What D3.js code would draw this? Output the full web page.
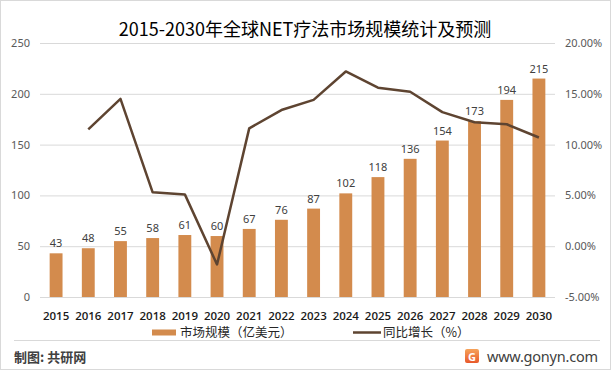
<!DOCTYPE html>
<html lang="zh">
<head>
  <meta charset="UTF-8">
  <title>2015-2030年全球NET疗法市场规模统计及预测</title>
  <style>
    body { margin: 0; background: #fff; font-family: "Noto Sans CJK SC", "Noto Sans", sans-serif; }
    svg { display: block; }
  </style>
</head>
<body>
  <svg id="chart"></svg>
  <script src="https://d3js.org/d3.v7.min.js"></script>
  <script>
    const years = ["2015","2016","2017","2018","2019","2020","2021","2022","2023","2024","2025","2026","2027","2028","2029","2030"];
    const marketSize = [43, 48, 55, 58, 61, 60, 67, 76, 87, 102, 118, 136, 154, 173, 194, 215];
    const growth = [null, 11.5, 14.5, 5.3, 5.1, -1.8, 11.6, 13.4, 14.4, 17.2, 15.6, 15.2, 13.2, 12.2, 12.0, 10.7];
    const leftTicks = [0, 50, 100, 150, 200, 250];
    const rightTicks = [-5, 0, 5, 10, 15, 20];

    const width = 611, height = 370;
    const svg = d3.select("#chart").attr("width", width).attr("height", height);

    // outer frame
    svg.append("rect").attr("x", 0.5).attr("y", 0.5).attr("width", width - 1).attr("height", height - 1)
      .attr("fill", "#fff").attr("stroke", "#d9d9d9");

    const plot = { left: 40, right: 555, top: 43, bottom: 297 };

    const x = d3.scaleBand().domain(years).range([plot.left, plot.right]).paddingInner(0.6).paddingOuter(0.3);
    const xc = d => x(d) + x.bandwidth() / 2;
    const yL = d3.scaleLinear().domain([0, 250]).range([plot.bottom, plot.top]);
    const yR = d3.scaleLinear().domain([-5, 20]).range([plot.bottom, plot.top]);

    // gridlines
    svg.append("g").selectAll("line").data(leftTicks).join("line")
      .attr("x1", plot.left).attr("x2", plot.right)
      .attr("y1", d => yL(d) + 0.5).attr("y2", d => yL(d) + 0.5)
      .attr("stroke", "#d9d9d9").attr("stroke-width", 1);

    // left axis
    const axL = svg.append("g").attr("transform", `translate(${plot.left - 10},0)`)
      .call(d3.axisLeft(yL).tickValues(leftTicks).tickSize(0).tickPadding(0));
    axL.select(".domain").remove();
    axL.selectAll("text").attr("fill", "#595959").style("font-size", "11px").style("font-family", "Noto Sans, sans-serif");

    // right axis
    const axR = svg.append("g").attr("transform", `translate(${plot.right + 10},0)`)
      .call(d3.axisRight(yR).tickValues(rightTicks).tickSize(0).tickPadding(0).tickFormat(d => d.toFixed(2) + "%"));
    axR.select(".domain").remove();
    axR.selectAll("text").attr("fill", "#595959").style("font-size", "11px").style("font-family", "Noto Sans, sans-serif");

    // bars
    svg.append("g").selectAll("rect").data(marketSize).join("rect")
      .attr("x", (d, i) => x(years[i]))
      .attr("y", d => yL(d))
      .attr("width", x.bandwidth())
      .attr("height", d => yL(0) - yL(d))
      .attr("fill", "#d38b4d");

    // bar labels
    svg.append("g").selectAll("text").data(marketSize).join("text")
      .attr("x", (d, i) => xc(years[i]))
      .attr("y", d => yL(d) - 6)
      .attr("text-anchor", "middle")
      .attr("fill", "#404040")
      .style("font-size", "11px")
      .style("font-family", "Noto Sans, sans-serif")
      .text(d => d);

    // x labels
    svg.append("g").selectAll("text").data(years).join("text")
      .attr("x", d => xc(d))
      .attr("y", 320)
      .attr("text-anchor", "middle")
      .attr("fill", "#1a1a1a")
      .style("font-size", "11.5px")
      .style("font-weight", "600")
      .style("font-family", "Open Sans, Noto Sans, sans-serif")
      .text(d => d);

    // growth line
    const line = d3.line()
      .defined(d => d != null)
      .x((d, i) => xc(years[i]))
      .y(d => yR(d));
    svg.append("path").datum(growth)
      .attr("fill", "none").attr("stroke", "#5e4431").attr("stroke-width", 2.5)
      .attr("stroke-linejoin", "round")
      .attr("d", line);

    // title
    svg.append("text").attr("x", 305).attr("y", 36).attr("text-anchor", "middle")
      .attr("fill", "#000").style("font-size", "18px")
      .text("2015-2030年全球NET疗法市场规模统计及预测");

    // legend
    const lg = svg.append("g");
    lg.append("rect").attr("x", 152).attr("y", 329.5).attr("width", 24).attr("height", 6).attr("fill", "#d38b4d");
    lg.append("text").attr("x", 180).attr("y", 337).attr("fill", "#262626").style("font-size", "12.5px").text("市场规模（亿美元）");
    lg.append("line").attr("x1", 353).attr("x2", 381).attr("y1", 332.5).attr("y2", 332.5)
      .attr("stroke", "#5e4431").attr("stroke-width", 2.5);
    lg.append("text").attr("x", 383).attr("y", 337).attr("fill", "#262626").style("font-size", "12.5px").text("同比增长（%）");

    // footer
    svg.append("line").attr("x1", 14).attr("x2", 600).attr("y1", 340.5).attr("y2", 340.5).attr("stroke", "#d9d9d9");
    svg.append("text").attr("x", 14).attr("y", 362).attr("fill", "#404040").style("font-size", "13px").style("font-weight", "bold")
      .text("制图: 共研网");
    const grad = svg.append("defs").append("linearGradient").attr("id", "logo").attr("x1", 0).attr("y1", 0).attr("x2", 0).attr("y2", 1);
    grad.append("stop").attr("offset", 0).attr("stop-color", "#f6a35a");
    grad.append("stop").attr("offset", 1).attr("stop-color", "#e8592b");
    svg.append("rect").attr("x", 465).attr("y", 349).attr("width", 14).attr("height", 14).attr("rx", 2).attr("fill", "url(#logo)");
    svg.append("text").attr("x", 472).attr("y", 360.5).attr("text-anchor", "middle").attr("fill", "#fff")
      .style("font-size", "11px").style("font-weight", "bold").style("font-family", "Noto Sans, sans-serif").text("G");
    svg.append("text").attr("x", 487).attr("y", 362).attr("fill", "#404040").style("font-size", "14.5px")
      .style("font-family", "Noto Sans, sans-serif").attr("textLength", 111).text("www.gonyn.com");
  </script>
</body>
</html>
